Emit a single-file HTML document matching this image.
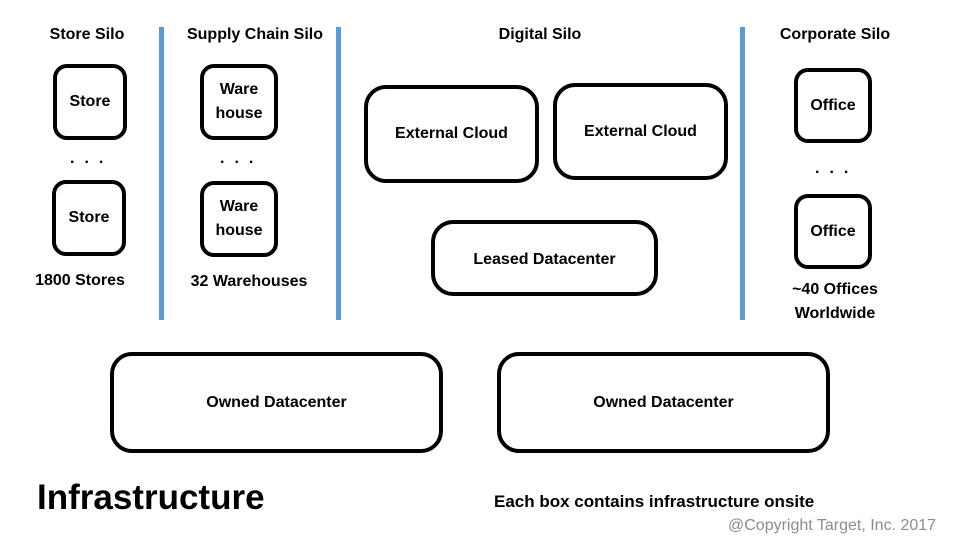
<!DOCTYPE html>
<html><head><meta charset="utf-8"><style>
body{margin:0;width:960px;height:540px;background:#fff;position:relative;overflow:hidden;font-family:"Liberation Sans",sans-serif;color:#000}
.b{position:absolute;border:4px solid #000;box-sizing:border-box;display:flex;align-items:center;justify-content:center;text-align:center;font-size:16px;line-height:24px;font-weight:bold}
.s{border-radius:14px}.l{border-radius:22px}
.t{position:absolute;font-size:16px;line-height:24px;text-align:center;white-space:nowrap;font-weight:bold}
.v{position:absolute;width:5px;background:#5b9bd5;top:27px;height:293px}
.d{position:absolute;font-size:16px;letter-spacing:10px;font-weight:bold}
</style></head><body>
<div class="v" style="left:159px"></div>
<div class="v" style="left:336px"></div>
<div class="v" style="left:740px"></div>

<div class="t" style="left:27px;top:23px;width:120px">Store Silo</div>
<div class="t" style="left:170px;top:23px;width:170px">Supply Chain Silo</div>
<div class="t" style="left:470px;top:23px;width:140px">Digital Silo</div>
<div class="t" style="left:765px;top:23px;width:140px">Corporate Silo</div>

<div class="b s" style="left:53px;top:64px;width:74px;height:76px">Store</div>
<div class="b s" style="left:52px;top:180px;width:74px;height:76px">Store</div>
<div class="d" style="left:70px;top:150px">...</div>
<div class="t" style="left:20px;top:269px;width:120px">1800 Stores</div>

<div class="b s" style="left:200px;top:64px;width:78px;height:76px">Ware<br>house</div>
<div class="b s" style="left:200px;top:181px;width:78px;height:76px">Ware<br>house</div>
<div class="d" style="left:220px;top:150px">...</div>
<div class="t" style="left:170px;top:270px;width:158px">32 Warehouses</div>

<div class="b l" style="left:364px;top:85px;width:175px;height:98px">External Cloud</div>
<div class="b l" style="left:553px;top:83px;width:175px;height:97px">External Cloud</div>
<div class="b l" style="left:431px;top:220px;width:227px;height:76px;padding-top:4px">Leased Datacenter</div>

<div class="b s" style="left:794px;top:68px;width:78px;height:75px">Office</div>
<div class="b s" style="left:794px;top:194px;width:78px;height:75px">Office</div>
<div class="d" style="left:815px;top:160px">...</div>
<div class="t" style="left:770px;top:278px;width:130px">~40 Offices<br>Worldwide</div>

<div class="b l" style="left:110px;top:352px;width:333px;height:101px">Owned Datacenter</div>
<div class="b l" style="left:497px;top:352px;width:333px;height:101px">Owned Datacenter</div>

<div class="t" style="left:37px;top:477px;font-size:35px;line-height:42px;text-align:left">Infrastructure</div>
<div class="t" style="left:494px;top:490px;font-size:17px;text-align:left">Each box contains infrastructure onsite</div>
<div class="t" style="left:728px;top:514px;font-size:16px;color:#8c8c8c;text-align:left;font-weight:normal">@Copyright Target, Inc. 2017</div>
</body></html>
